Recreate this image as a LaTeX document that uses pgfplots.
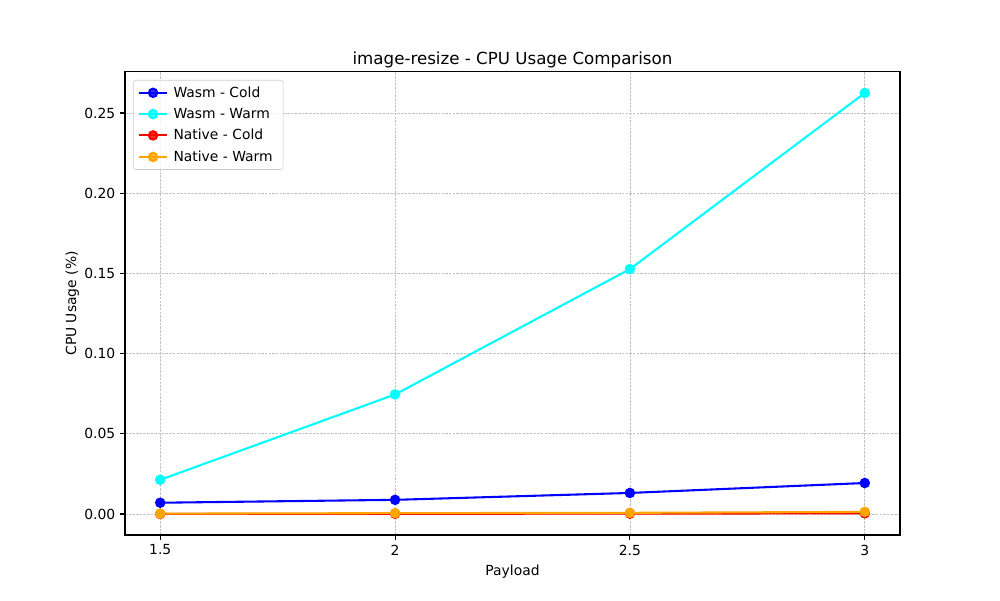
\documentclass[border=0pt]{standalone}
\usepackage{fontspec}
\setmainfont{DejaVu Sans}
\usepackage{pgfplots}
\pgfplotsset{compat=1.18}
\definecolor{mplorange}{rgb}{1,0.647,0}
\definecolor{mplcyan}{rgb}{0,1,1}
\definecolor{mplblue}{rgb}{0,0,1}
\definecolor{mplred}{rgb}{1,0,0}
\definecolor{gridgray}{rgb}{0.76,0.76,0.76}
\begin{document}
\begin{tikzpicture}
\useasboundingbox (0,0) rectangle (720pt,432pt);
\begin{axis}[
  at={(90pt,46.8pt)}, anchor=south west,
  scale only axis,
  width=558pt, height=333.4pt,
  xmin=1.425, xmax=3.075,
  ymin=-0.013125, ymax=0.275625,
  xtick={1.5,2,2.5,3},
  xticklabels={1.5,2,2.5,3},
  ytick={0,0.05,0.1,0.15,0.2,0.25},
  yticklabels={0.00,0.05,0.10,0.15,0.20,0.25},
  tick align=outside,
  major tick length=3.5pt,
  tick pos=left,
  every tick/.style={black, line width=0.8pt},
  axis line style={line width=0.8pt},
  /pgf/number format/assume math mode=true,
  tick label style={font=\fontsize{10}{12}\selectfont},
  grid=major,
  major grid style={gridgray, line width=0.45pt, dash pattern=on 1.85pt off 0.8pt},
  title={image-resize - CPU Usage Comparison},
  title style={font=\fontsize{12}{14}\selectfont, yshift=-7pt},
  xlabel={Payload},
  ylabel={CPU Usage (\%)},
  ylabel style={yshift=-3pt},
  label style={font=\fontsize{10}{12}\selectfont},
  legend cell align=left,
  legend style={at={(0.0103,0.9827)}, anchor=north west,
    font=\fontsize{10}{12}\selectfont,
    draw=black!20, rounded corners=2pt, fill=white, fill opacity=0.8, text opacity=1,
    inner xsep=3.5pt, inner ysep=2.5pt, row sep=2.4pt,
    nodes={inner xsep=4pt}},
  legend image code/.code={\draw[mark repeat=2,mark phase=2] plot coordinates {(0pt,0pt)(10pt,0pt)(20pt,0pt)};},
  every axis plot/.append style={line width=1.5pt, mark=*, mark size=3pt, mark options={solid}},
]
\addplot[mplblue, mark options={fill=mplblue, draw=mplblue}] coordinates {(1.5,0.0070) (2,0.0088) (2.5,0.0131) (3,0.0193)};
\addlegendentry{Wasm - Cold}
\addplot[mplcyan, mark options={fill=mplcyan, draw=mplcyan}] coordinates {(1.5,0.0213) (2,0.0745) (2.5,0.1527) (3,0.2625)};
\addlegendentry{Wasm - Warm}
\addplot[mplred, mark options={fill=mplred, draw=mplred}] coordinates {(1.5,0.0000) (2,0.0001) (2.5,0.0002) (3,0.0004)};
\addlegendentry{Native - Cold}
\addplot[mplorange, mark options={fill=mplorange, draw=mplorange}] coordinates {(1.5,0.0002) (2,0.0005) (2.5,0.0007) (3,0.0013)};
\addlegendentry{Native - Warm}
\end{axis}
\end{tikzpicture}
\end{document}
